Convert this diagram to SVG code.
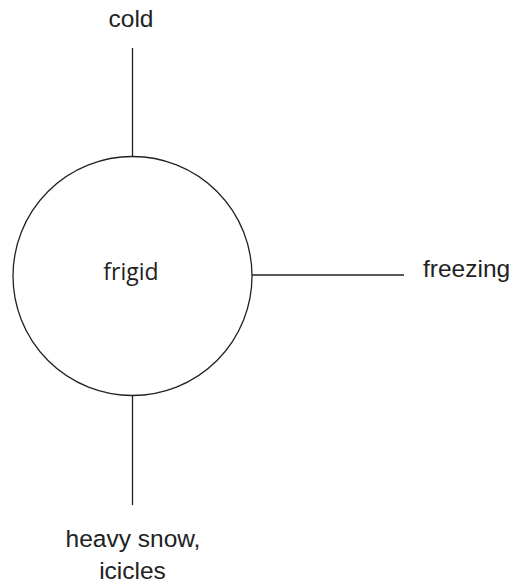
<svg xmlns="http://www.w3.org/2000/svg" width="513" height="583" viewBox="0 0 513 583">
<style>
.lbl{font-family:"Liberation Sans",Arial,sans-serif;font-size:24.5px;fill:#222}
.ctr{font-family:"Open Sans","Liberation Sans",sans-serif;font-size:23px;fill:#222;text-anchor:middle}
.edge{stroke:#222;stroke-width:1.3;fill:none}
</style>
<rect width="513" height="583" fill="#fff"/>
<g id="connectors">
<line class="edge" x1="132.5" y1="48" x2="132.5" y2="156"/>
<line class="edge" x1="252" y1="275" x2="404" y2="275"/>
<line class="edge" x1="132.5" y1="395" x2="132.5" y2="505"/>
</g>
<g id="frigid">
<circle cx="132.5" cy="276" r="119.5" fill="#fff" stroke="#222" stroke-width="1.3"/>
<text class="ctr" x="131" y="280">frigid</text>
</g>
<g id="cold"><text class="lbl" x="131" y="27" text-anchor="middle">cold</text></g>
<g id="freezing"><text class="lbl" x="423" y="277">freezing</text></g>
<g id="heavy-snow"><text class="lbl" text-anchor="middle" y="547"><tspan x="133">heavy snow,</tspan><tspan x="132.5" y="579">icicles</tspan></text></g>
</svg>
